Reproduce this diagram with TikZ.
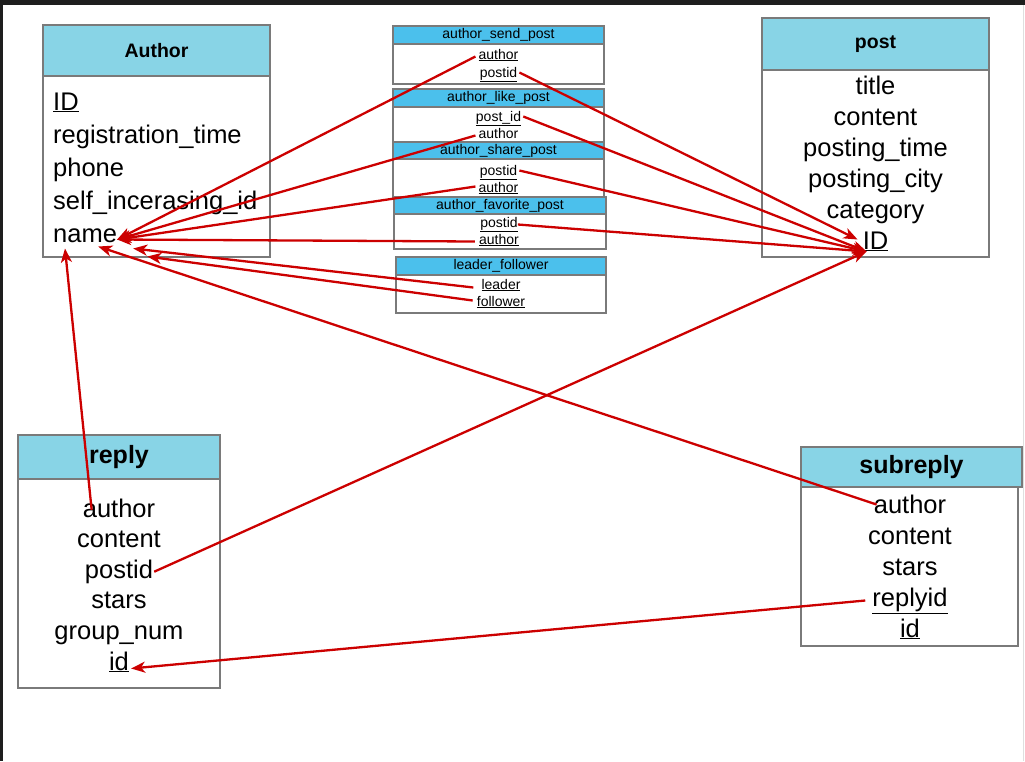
\documentclass[tikz,border=0pt]{standalone}
\usepackage{fontspec}
\setmainfont{Liberation Sans}
\usetikzlibrary{arrows.meta}
\definecolor{hdr}{HTML}{88D4E6}
\definecolor{hdrB}{HTML}{4BC0EC}
\definecolor{bord}{HTML}{7A7A7A}
\definecolor{rel}{HTML}{CC0000}
\definecolor{framecol}{HTML}{1E1E1E}
\begin{document}
\begin{tikzpicture}[x=1pt,y=-1pt,
  hbox/.style={draw=bord,line width=1.3pt,fill=hdr,anchor=north west,inner sep=0pt,outer sep=0pt},
  hboxB/.style={draw=bord,line width=1.3pt,fill=hdrB,anchor=north west,inner sep=0pt,outer sep=0pt,font=\fontsize{14}{16}\selectfont},
  bbox/.style={draw=bord,line width=1.3pt,fill=white,anchor=north west,inner sep=0pt,outer sep=0pt},
  big/.style={font=\fontsize{25.5}{30}\selectfont,inner sep=0pt,text height=0.7em,text depth=0.2em,anchor=base},
  bigl/.style={big,anchor=base west},
  small/.style={font=\fontsize{14}{16}\selectfont,inner sep=0pt,text height=0.7em,text depth=0.2em,anchor=base},
  conn/.style={draw=rel,line width=2.3pt,-{Stealth[length=14pt,width=11pt,inset=4pt]}}
]
\useasboundingbox (0,0) rectangle (1025,761);
\fill[white] (0,0) rectangle (1025,761);
\fill[framecol] (0,0) rectangle (1025,5);
\fill[framecol] (0,0) rectangle (3,761);
\draw[gray!25,line width=1pt] (1023.5,5) -- (1023.5,761);

% Author
\node[hbox,minimum width=227pt,minimum height=51pt] (authH) at (43,25) {\fontsize{19.5}{22}\selectfont\bfseries Author};
\node[bbox,minimum width=227pt,minimum height=181pt] (authB) at (43,76) {};
\node[bigl] (aid) at (53,110) {\underline{ID}};
\node[bigl] (areg) at (53,143) {registration\_time};
\node[bigl] (aph) at (53,176) {phone};
\node[bigl] (aself) at (53,209) {self\_incerasing\_id};
\node[bigl] (an) at (53,242) {name};

% post
\node[hbox,minimum width=227pt,minimum height=52pt] (postH) at (762,18) {\fontsize{19.5}{22}\selectfont\bfseries post};
\node[bbox,minimum width=227pt,minimum height=187pt] (postB) at (762,70) {};
\node[big] (pt) at (875.5,94) {title};
\node[big] (pc) at (875.5,125) {content};
\node[big] (ptime) at (875.5,156) {posting\_time};
\node[big] (pcity) at (875.5,187) {posting\_city};
\node[big] (pcat) at (875.5,218) {category};
\node[big] (pid) at (875.5,249) {\underline{ID}};

% reply
\node[hbox,minimum width=202pt,minimum height=44pt] (repH) at (18,435) {\fontsize{25}{28}\selectfont\bfseries reply};
\node[bbox,minimum width=202pt,minimum height=209pt] (repB) at (18,479) {};
\node[big] (ra) at (119,517) {author};
\node[big] (rc) at (119,547.6) {content};
\node[big] (rp) at (119,578.2) {postid};
\node[big] (rs) at (119,608.8) {stars};
\node[big] (rg) at (119,639.4) {group\_num};
\node[big] (rid) at (119,670) {\underline{id}};

% subreply
\node[hbox,minimum width=221pt,minimum height=40pt] (subH) at (801,447) {\fontsize{25}{28}\selectfont\bfseries subreply};
\node[bbox,minimum width=217pt,minimum height=159pt] (subB) at (801,487) {};
\node[big] (sa) at (910,513) {author};
\node[big] (sc) at (910,544) {content};
\node[big] (ss) at (910,575) {stars};
\node[big] (sr) at (910,606) {\underline{replyid}};
\node[big] (sid) at (910,637) {\underline{id}};

% author_send_post
\node[bbox,minimum width=211pt,minimum height=40pt] (sendB) at (393,44) {};
\node[hboxB,minimum width=211pt,minimum height=18pt] (sendH) at (393,26) {author\_send\_post};
\node[small] (senda) at (498.5,59) {\underline{author}};
\node[small] (sendp) at (498.5,77) {\underline{postid}};

% author_like_post
\node[bbox,minimum width=211pt,minimum height=35pt] (likeB) at (393,107) {};
\node[hboxB,minimum width=211pt,minimum height=18pt] (likeH) at (393,89) {author\_like\_post};
\node[small] (likep) at (498.5,121) {\underline{post\_id}};
\node[small] (likea) at (498.5,138) {author};

% author_share_post
\node[bbox,minimum width=211pt,minimum height=38pt] (shareB) at (393,159) {};
\node[hboxB,minimum width=211pt,minimum height=17pt] (shareH) at (393,142) {author\_share\_post};
\node[small] (sharep) at (498.5,175) {\underline{postid}};
\node[small] (sharea) at (498.5,192) {\underline{author}};

% author_favorite_post
\node[bbox,minimum width=212pt,minimum height=35pt] (favB) at (394,214) {};
\node[hboxB,minimum width=212pt,minimum height=17pt] (favH) at (394,197) {author\_favorite\_post};
\node[small] (favp) at (499,227) {\underline{postid}};
\node[small] (fava) at (499,244) {\underline{author}};

% leader_follower
\node[bbox,minimum width=210pt,minimum height=38pt] (lfB) at (396,275) {};
\node[hboxB,minimum width=210pt,minimum height=18pt] (lfH) at (396,257) {leader\_follower};
\node[small] (lfl) at (501,289) {\underline{leader}};
\node[small] (lff) at (501,306) {\underline{follower}};

% target points
\coordinate (an1) at (an.east);
\coordinate (an2) at ([shift={(16,9)}]an.east);
\coordinate (an3) at ([shift={(30,17)}]an.east);
\coordinate (an4) at ([shift={(-19,7)}]an.east);
\coordinate (an5) at ([shift={(12,9)}]an.west);
\coordinate (pidA) at ([shift={(-5,-7)}]pid.west);
\coordinate (pidB) at ([shift={(4,5)}]pid.west);
\coordinate (ridT) at ([shift={(2,1)}]rid.east);

% connectors
\draw[conn] ([shift={(-3,0)}]senda.west) -- (an1);
\draw[conn] ([shift={(2,-2)}]sendp.east) -- (pidA);
\draw[conn] ([shift={(2,-2)}]likep.east) -- (pidB);
\draw[conn] ([shift={(-3,0)}]likea.west) -- (an1);
\draw[conn] ([shift={(2,-2)}]sharep.east) -- (pidB);
\draw[conn] ([shift={(-3,-3)}]sharea.west) -- (an1);
\draw[conn] (favp.east) -- (pidB);
\draw[conn] ([shift={(-4,0)}]fava.west) -- (an1);
\draw[conn] ([shift={(-8,1)}]lfl.west) -- (an2);
\draw[conn] ([shift={(-4,-3)}]lff.west) -- (an3);
\draw[conn] ([shift={(3,-6)}]sa.west) -- (an4);
\draw[conn] ([shift={(9,0)}]ra.north west) -- (an5);
\draw[conn] ([shift={(1,-4)}]rp.east) -- (pidB);
\draw[conn] ([shift={(-7,-3)}]sr.west) -- (ridT);
\end{tikzpicture}
\end{document}
